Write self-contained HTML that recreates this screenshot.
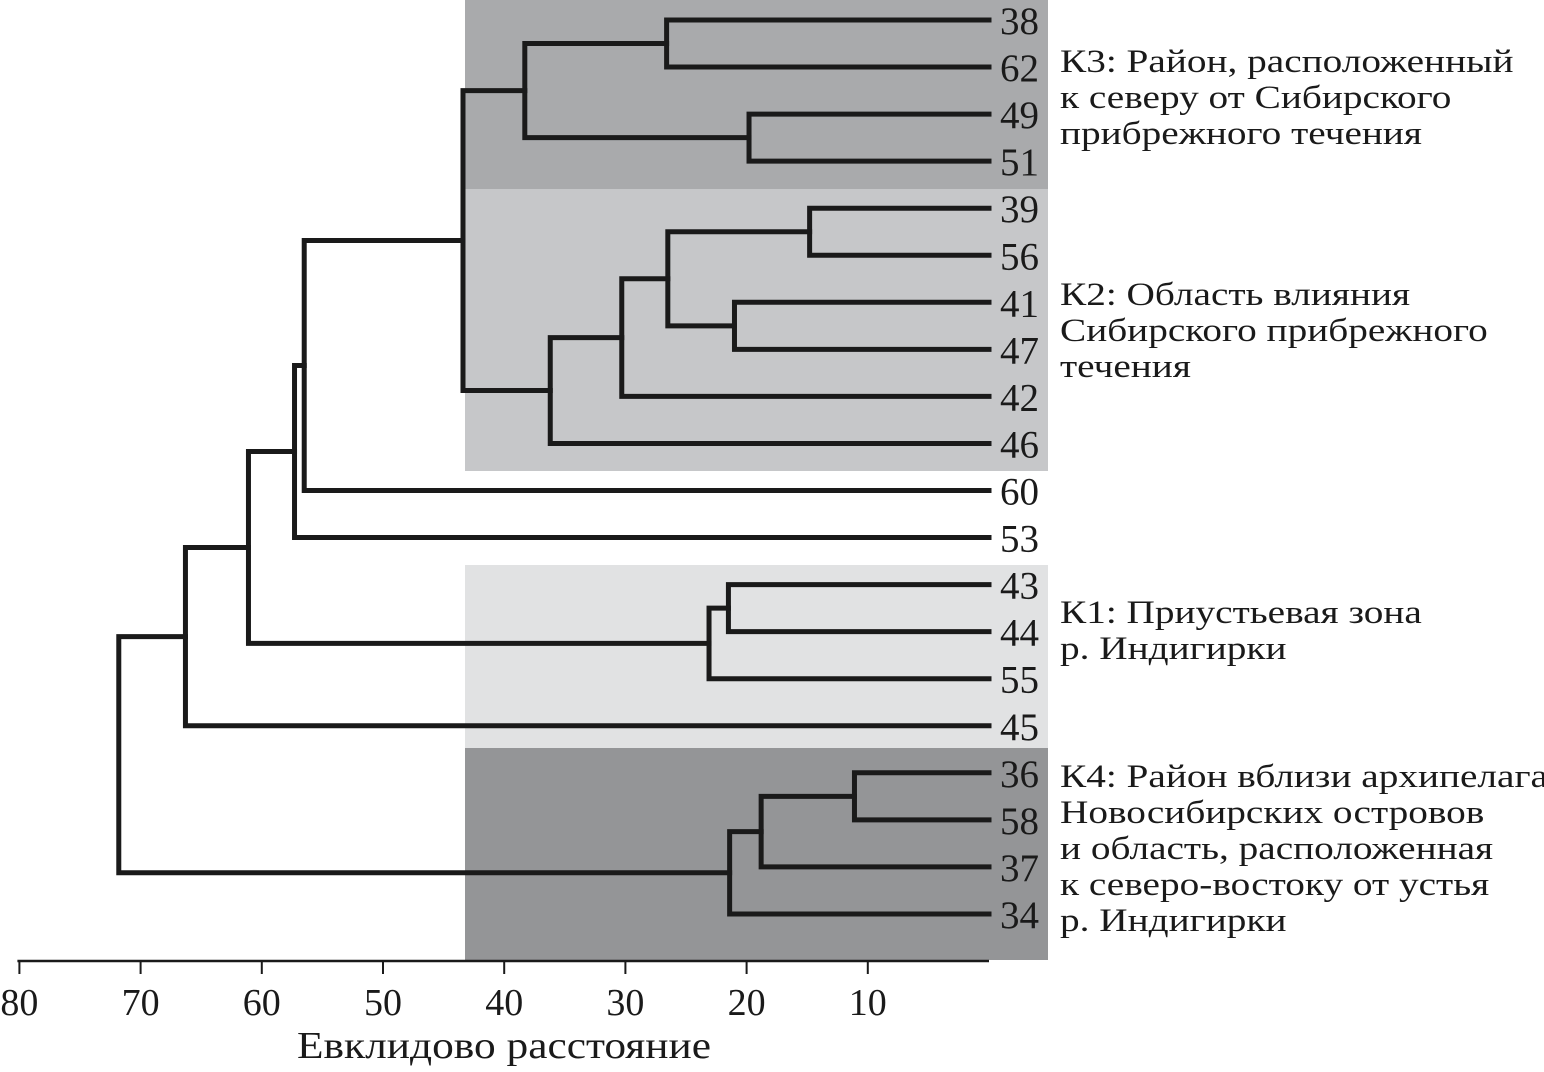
<!DOCTYPE html>
<html><head><meta charset="utf-8"><style>
html,body{margin:0;padding:0;background:#fff}
svg{display:block}
text{font-family:"Liberation Serif",serif;fill:#1a1a1a}
</style></head><body>
<svg id="chart" width="1544" height="1072" viewBox="0 0 1544 1072" xmlns="http://www.w3.org/2000/svg">
<g id="bands"></g>
<g id="tree"></g>
<g id="leaves"></g>
<g id="axis"></g>
<g id="clabels"></g>
<text x="297" y="1058" font-size="38" textLength="414" lengthAdjust="spacingAndGlyphs">Евклидово расстояние</text>
</svg>
<script>
const leafNames = ["38","62","49","51","39","56","41","47","42","46","60","53","43","44","55","45","36","58","37","34"];
// merges: [childA, childB, height]; children: leaf index (>=0) or ~mergeIndex (negative)
const mergeA = [0, 2, ~0, 4, 6, ~3, ~5, ~6, ~2, ~8, ~9, 12, ~11, ~10, ~13, 16, ~15, ~16, ~14];
const mergeB = [1, 3, ~1, 5, 7, ~4, 8, 9, ~7, 10, 11, 13, 14, ~12, 15, 17, 18, 19, ~17];
const mergeH = [26.6, 19.8, 38.3, 14.8, 21.0, 26.5, 30.3, 36.2, 43.4, 56.5, 57.3, 21.5, 23.1, 61.1, 66.3, 11.1, 18.8, 21.4, 71.8];
const tickValues = [80,70,60,50,40,30,20,10];
const bandNames = ["K3","K2","K1","K4"];
const bandFill = ["#a9aaac","#c6c7c9","#e1e2e3","#949597"];
const clusterLines = [
 ["К3: Район, расположенный","к северу от Сибирского","прибрежного течения"],
 ["К2: Область влияния","Сибирского прибрежного","течения"],
 ["К1: Приустьевая зона","р. Индигирки"],
 ["К4: Район вблизи архипелага","Новосибирских островов","и область, расположенная","к северо-востоку от устья","р. Индигирки"]
];
const clusterBase = [72, 305, 623, 787];

const NS="http://www.w3.org/2000/svg";
const x = v => 989 - v*12.12;
const yLeaf = i => 20 + i*47.05;
function el(tag, attrs, parent){const e=document.createElementNS(NS,tag);for(const k in attrs)e.setAttribute(k,attrs[k]);parent.appendChild(e);return e;}

const bandsG=document.getElementById('bands');
const bandTop=[0,189,565,748], bandBot=[189,471,748,960];
bandNames.forEach((n,i)=>{
  const r=el('rect',{x:465,y:bandTop[i],width:583,height:bandBot[i]-bandTop[i],fill:bandFill[i]},bandsG);
  
  
});

const treeG=document.getElementById('tree');
const nodeY=[], nodeX=[];
function pos(c){ return c>=0 ? [989, yLeaf(c)] : [nodeX[~c], nodeY[~c]]; }
for(let m=0;m<mergeH.length;m++){
  const a=pos(mergeA[m]), b=pos(mergeB[m]);
  const xm=x(mergeH[m]);
  nodeX[m]=xm; nodeY[m]=(a[1]+b[1])/2;
  const p=el('path',{d:`M${a[0]},${a[1]}H${xm}V${b[1]}H${b[0]}`,fill:'none',stroke:'#1a1a1a','stroke-width':5,'stroke-linejoin':'miter','stroke-linecap':'square'},treeG);
  
  
}
const leavesG=document.getElementById('leaves');
leafNames.forEach((n,i)=>{
  const t=el('text',{x:1000,y:yLeaf(i)+14,'font-size':39},leavesG);
  t.textContent=n;
  
  
});

const axisG=document.getElementById('axis');
const al=el('line',{x1:x(80)-2,x2:989,y1:961,y2:961,stroke:'#1a1a1a','stroke-width':2.5},axisG);


tickValues.forEach(v=>{
  const tk=el('line',{x1:x(v),x2:x(v),y1:961,y2:974,stroke:'#1a1a1a','stroke-width':2},axisG);
  
  
  const t=el('text',{x:x(v),y:1015,'font-size':38,'text-anchor':'middle'},axisG);
  t.textContent=v;
  
  
});

const clG=document.getElementById('clabels');
clusterLines.forEach((lines,i)=>{
  lines.forEach((s,j)=>{
    const t=el('text',{x:1060,y:clusterBase[i]+j*36,'font-size':33},clG);
    t.textContent=s;
    
    
    const w=t.getComputedTextLength();
    if(w>0){t.setAttribute('textLength',(w*1.19).toFixed(1));t.setAttribute('lengthAdjust','spacingAndGlyphs');}
  });
});
</script>
</body></html>
